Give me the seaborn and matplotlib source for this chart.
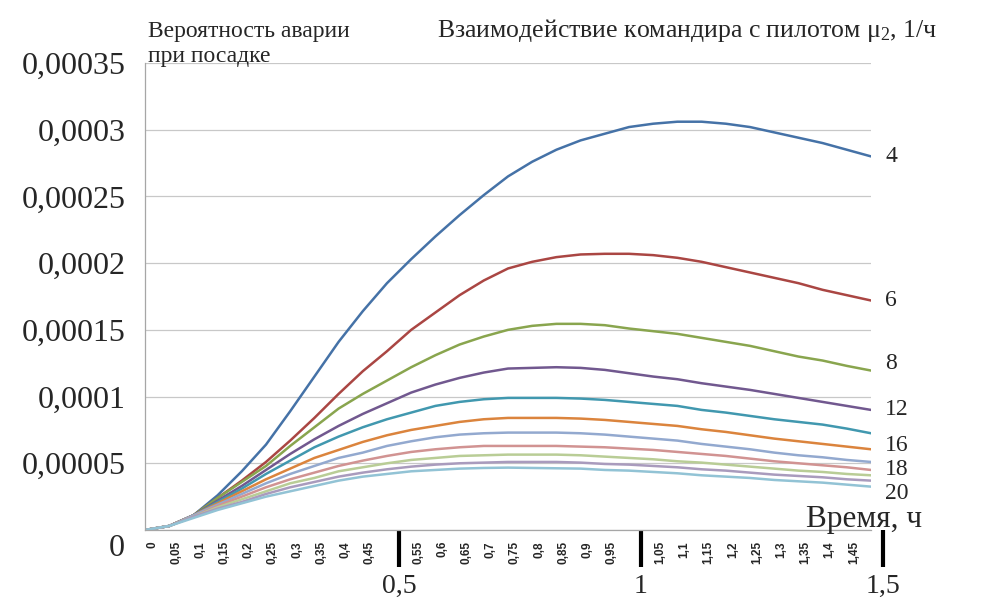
import matplotlib.pyplot as plt
import matplotlib.transforms as mtransforms
from matplotlib.ticker import MultipleLocator, FuncFormatter
import seaborn as sns
import pandas as pd

# time axis, hours
time_h = [0, 0.05, 0.1, 0.15, 0.2, 0.25, 0.3, 0.35, 0.4, 0.45, 0.5,
          0.55, 0.6, 0.65, 0.7, 0.75, 0.8, 0.85, 0.9, 0.95, 1.0,
          1.05, 1.1, 1.15, 1.2, 1.25, 1.3, 1.35, 1.4, 1.45, 1.5]

# accident probability, in units of 1e-4
p_blue = [0, 0.03, 0.11, 0.26, 0.44, 0.64, 0.89, 1.15, 1.41, 1.64, 1.85,
          2.03, 2.20, 2.36, 2.51, 2.65, 2.76, 2.85, 2.92, 2.97, 3.02,
          3.045, 3.06, 3.06, 3.045, 3.02, 2.98, 2.94, 2.90, 2.85, 2.80]
p_red = [0, 0.03, 0.11, 0.24, 0.37, 0.51, 0.67, 0.84, 1.02, 1.19, 1.34,
         1.50, 1.63, 1.76, 1.87, 1.96, 2.01, 2.045, 2.065, 2.07, 2.07,
         2.06, 2.04, 2.01, 1.97, 1.93, 1.89, 1.85, 1.80, 1.76, 1.72]
p_green = [0, 0.03, 0.11, 0.24, 0.36, 0.48, 0.63, 0.77, 0.91, 1.02, 1.12,
           1.22, 1.31, 1.39, 1.45, 1.50, 1.53, 1.545, 1.545, 1.535, 1.51,
           1.49, 1.47, 1.44, 1.41, 1.38, 1.34, 1.30, 1.27, 1.23, 1.195]
p_purple = [0, 0.03, 0.11, 0.22, 0.33, 0.45, 0.57, 0.68, 0.78, 0.87, 0.95,
            1.03, 1.09, 1.14, 1.18, 1.21, 1.215, 1.22, 1.215, 1.20, 1.175,
            1.15, 1.13, 1.10, 1.075, 1.05, 1.02, 0.99, 0.96, 0.93, 0.90]
p_teal = [0, 0.03, 0.11, 0.21, 0.31, 0.42, 0.52, 0.62, 0.70, 0.77, 0.83,
          0.88, 0.93, 0.96, 0.98, 0.99, 0.99, 0.99, 0.985, 0.975, 0.96,
          0.945, 0.93, 0.90, 0.88, 0.855, 0.83, 0.81, 0.79, 0.76, 0.725]
p_orange = [0, 0.03, 0.11, 0.20, 0.29, 0.38, 0.46, 0.54, 0.60, 0.66, 0.71,
            0.75, 0.78, 0.81, 0.83, 0.84, 0.84, 0.84, 0.835, 0.825, 0.81,
            0.795, 0.78, 0.755, 0.735, 0.71, 0.685, 0.665, 0.645, 0.625, 0.605]
p_ltblue = [0, 0.03, 0.11, 0.19, 0.27, 0.35, 0.42, 0.48, 0.54, 0.58, 0.63,
            0.665, 0.695, 0.715, 0.725, 0.73, 0.73, 0.73, 0.725, 0.715, 0.70,
            0.685, 0.67, 0.645, 0.625, 0.605, 0.58, 0.56, 0.545, 0.525, 0.51]
p_pink = [0, 0.03, 0.10, 0.18, 0.25, 0.32, 0.38, 0.43, 0.48, 0.52, 0.555,
          0.585, 0.605, 0.62, 0.63, 0.63, 0.63, 0.63, 0.625, 0.62, 0.61,
          0.60, 0.585, 0.57, 0.555, 0.535, 0.515, 0.50, 0.485, 0.47, 0.45]
p_ltgreen = [0, 0.03, 0.10, 0.17, 0.23, 0.29, 0.35, 0.39, 0.44, 0.47, 0.50,
             0.525, 0.54, 0.555, 0.56, 0.565, 0.565, 0.565, 0.56, 0.55, 0.54,
             0.53, 0.515, 0.505, 0.49, 0.475, 0.46, 0.445, 0.435, 0.42, 0.41]
p_lavender = [0, 0.03, 0.10, 0.16, 0.21, 0.27, 0.32, 0.36, 0.40, 0.43, 0.455,
              0.475, 0.49, 0.50, 0.505, 0.51, 0.51, 0.51, 0.505, 0.495, 0.49,
              0.48, 0.47, 0.455, 0.445, 0.43, 0.415, 0.405, 0.395, 0.38, 0.37]
p_ltteal = [0, 0.03, 0.09, 0.15, 0.20, 0.25, 0.29, 0.33, 0.37, 0.40, 0.42,
            0.44, 0.45, 0.46, 0.465, 0.4675, 0.465, 0.4625, 0.46, 0.45, 0.445,
            0.435, 0.425, 0.41, 0.40, 0.39, 0.375, 0.365, 0.355, 0.34, 0.325]

series = [p_blue, p_red, p_green, p_purple, p_teal, p_orange,
          p_ltblue, p_pink, p_ltgreen, p_lavender, p_ltteal]
series_ids = ['s1', 's2', 's3', 's4', 's5', 's6', 's7', 's8', 's9', 's10', 's11']
colors = ['#4572A7', '#AA4643', '#89A54E', '#71588F', '#4198AF', '#DB843D',
          '#93A9CF', '#D19392', '#B9CD96', '#A99BBD', '#92C3D5']
# mu2 labels written at the right end of some curves
end_labels = ['4', '6', '8', '12', '', '16', '', '18', '', '', '20']
label_nudge_px = [0, 0, 7, 0, 0, 4, 0, 0, 0, 0, -7]

rows = []
for sid, vals in zip(series_ids, series):
    for t, v in zip(time_h, vals):
        rows.append([sid, t, v * 1e-4])
df = pd.DataFrame(rows, columns=['series', 't', 'p'])

sns.set_style("white")
plt.rcParams['font.family'] = ['Liberation Serif', 'DejaVu Serif']
plt.rcParams['mathtext.fontset'] = 'custom'
plt.rcParams['mathtext.rm'] = 'Liberation Serif'
plt.rcParams['mathtext.default'] = 'regular'

fig = plt.figure(figsize=(9.89, 6.05), dpi=100)
ax = fig.add_axes([145 / 989, 75 / 605, 726 / 989, 467 / 605])

sns.lineplot(data=df, x='t', y='p', hue='series', hue_order=series_ids,
             palette=colors, linewidth=1.8, legend=False, ax=ax)

ax.set_xlim(0, 1.5)
ax.set_ylim(0, 0.00035)
ax.set_xlabel('')
ax.set_ylabel('')

for s in ['top', 'right']:
    ax.spines[s].set_visible(False)
for s in ['left', 'bottom']:
    ax.spines[s].set_color('#a6a6a6')
    ax.spines[s].set_linewidth(0.9)

# y axis
ax.yaxis.set_major_locator(MultipleLocator(0.00005))
ax.yaxis.set_minor_locator(MultipleLocator(0.00001))
ax.yaxis.set_major_formatter(FuncFormatter(
    lambda v, _: '' if v < 1e-9 else f'{v:.5f}'.rstrip('0').rstrip('.').replace('.', ',')))
ax.tick_params(axis='y', which='major', direction='out', length=5, color='#a6a6a6',
               labelsize=23, pad=9)
ax.tick_params(axis='y', which='minor', direction='out', length=3, color='#a6a6a6')
ax.yaxis.grid(True, color='#c8c8c8', linewidth=0.9)
ax.xaxis.grid(False)
ax.text(0, 0, '0', transform=ax.get_yaxis_transform()
        + mtransforms.ScaledTranslation(-0.20, -0.19, fig.dpi_scale_trans),
        ha='right', va='center', fontsize=23)

# x axis: small category labels every 0.05, thick marks at 0.5, 1, 1.5
ax.set_xticks(time_h)
small_labels = [('' if t in (0.5, 1.0, 1.5) else f'{t:g}'.replace('.', ',')) for t in time_h]
ax.set_xticklabels(small_labels, rotation=90, fontsize=8.5, fontweight='bold',
                   family='Liberation Sans')
ax.tick_params(axis='x', which='major', direction='out', length=4, color='#a6a6a6', pad=4)
shift = mtransforms.ScaledTranslation(0.07, 0, fig.dpi_scale_trans)
for lbl in ax.get_xticklabels():
    lbl.set_transform(lbl.get_transform() + shift)

big_shift = mtransforms.ScaledTranslation(0.12, 0, fig.dpi_scale_trans)
xtrans = ax.get_xaxis_transform() + big_shift
for t, lab in [(0.5, '0,5'), (1.0, '1'), (1.5, '1,5')]:
    ax.plot([t, t], [0, -0.08], color='black', linewidth=3, transform=xtrans,
            clip_on=False, solid_capstyle='butt')
    ax.text(t, -0.095, lab, transform=xtrans, ha='center', va='top', fontsize=20)

# labels at the right ends of the curves
for lab, vals, dy in zip(end_labels, series, label_nudge_px):
    if lab:
        rtrans = ax.get_yaxis_transform() + mtransforms.ScaledTranslation(
            0.14, dy / 100, fig.dpi_scale_trans)
        ax.text(1.0, vals[-1] * 1e-4, lab, transform=rtrans, ha='left', va='center',
                fontsize=17)

# captions
ax.text(0.91, 0.006, 'Время, ч', transform=ax.transAxes, ha='left', va='baseline',
        fontsize=22.5)
fig.text(148 / 989, 1 - 37 / 605, 'Вероятность аварии', ha='left', va='baseline',
         fontsize=17)
fig.text(148 / 989, 1 - 62 / 605, 'при посадке', ha='left', va='baseline', fontsize=17)
fig.text(437 / 989, 1 - 37 / 605, 'Взаимодействие командира с пилотом μ$_2$, 1/ч',
         ha='left', va='baseline', fontsize=18.5)

fig.savefig('out.png', dpi=100)
